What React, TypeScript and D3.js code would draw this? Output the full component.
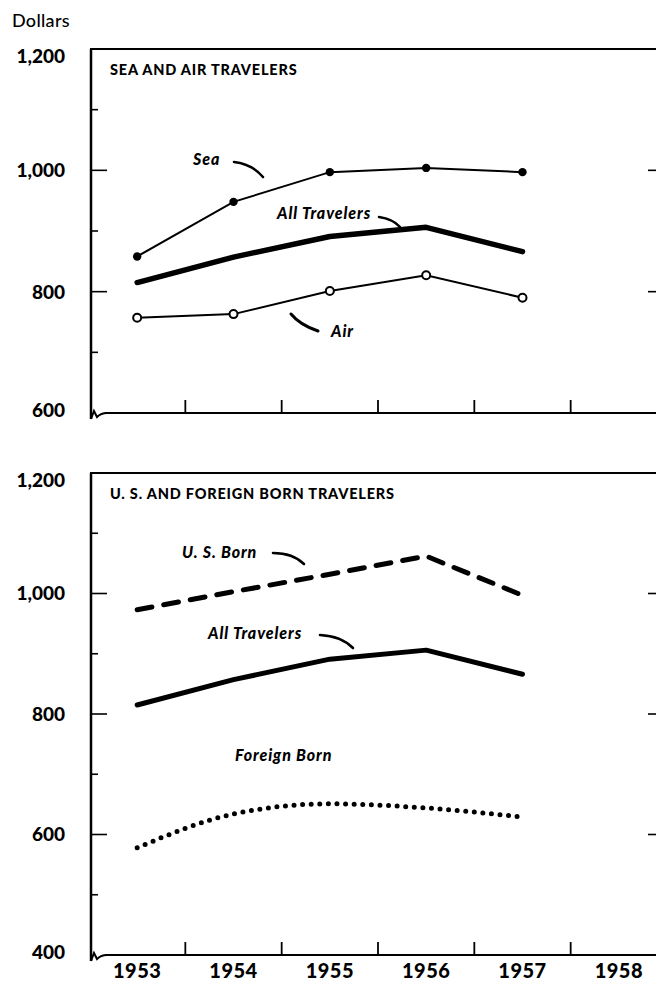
import * as d3 from "d3";

// values (dollars per traveler)
const years = [1953, 1954, 1955, 1956, 1957];
const axisYears = [1953, 1954, 1955, 1956, 1957, 1958];
const seaValues = [858, 948, 997, 1004, 997];
const airValues = [757, 763, 801, 827, 790];
const allTravelersValues = [815, 857, 891, 906, 866];
const usBornValues = [973, 1003, 1032, 1062, 997];
const foreignBornValues = [578, 634, 651, 644, 629];
const topTicks = [600, 700, 800, 900, 1000, 1100, 1200];
const bottomTicks = [400, 500, 600, 700, 800, 900, 1000, 1100, 1200];

const W = 656;
const H = 984;
const LEFT = 91;
const FONT = "Lato, 'DejaVu Sans', sans-serif";

const x = d3.scaleLinear().domain([1952.5, 1958.5]).range([89, 667]);
const yTop = d3.scaleLinear().domain([600, 1200]).range([413, 49]);
const yBot = d3.scaleLinear().domain([400, 1200]).range([955, 473]);

const fmt = d3.format(",");

function pts(vals: number[], y: d3.ScaleLinear<number, number>) {
  return vals.map((v, i) => [x(years[i]), y(v)] as [number, number]);
}

function Frame({ y, ticks, title }: { y: d3.ScaleLinear<number, number>; ticks: number[]; title: string }) {
  const [lo, hi] = y.domain();
  const top = y(hi);
  const base = y(lo);
  return (
    <g>
      <line x1={LEFT - 1} x2={W} y1={top} y2={top} stroke="#000" strokeWidth={2.2} />
      <line x1={LEFT} x2={LEFT} y1={top} y2={base + 6} stroke="#000" strokeWidth={2.5} />
      <path
        d={`M${LEFT},${base + 6} L${LEFT + 3},${base - 2} L${LEFT + 6},${base + 4} Q${LEFT + 10},${base} ${LEFT + 16},${base}`}
        fill="none"
        stroke="#000"
        strokeWidth={2}
      />
      <line x1={LEFT + 14} x2={W} y1={base} y2={base} stroke="#000" strokeWidth={2.2} />
      {ticks.map((t) => {
        const major = (t - lo) % 200 === 0;
        if (t === lo || t === hi) return null;
        return (
          <g key={t}>
            <line x1={LEFT} x2={LEFT + (major ? 16 : 7)} y1={y(t)} y2={y(t)} stroke="#000" strokeWidth={1.6} />
            {major && <line x1={W - 8} x2={W} y1={y(t)} y2={y(t)} stroke="#000" strokeWidth={1.6} />}
          </g>
        );
      })}
      {ticks
        .filter((t) => (t - lo) % 200 === 0)
        .map((t) => (
          <text
            key={t}
            x={65}
            y={y(t) + (t === hi ? 7 : t === lo ? -3 : 0)}
            dy="0.36em"
            textAnchor="end"
            fontFamily={FONT}
            fontWeight={900}
            fontSize={19}
          >
            {fmt(t)}
          </text>
        ))}
      {axisYears.slice(0, -1).map((yr) => (
        <line key={yr} x1={x(yr + 0.5)} x2={x(yr + 0.5)} y1={base} y2={base - 13} stroke="#000" strokeWidth={1.8} />
      ))}
      <text x={110} y={top + 26} fontFamily={FONT} fontWeight={900} fontSize={14.5} letterSpacing={0.8}>
        {title}
      </text>
    </g>
  );
}

function Label({ x: lx, y: ly, text }: { x: number; y: number; text: string }) {
  return (
    <text x={lx} y={ly} fontFamily={FONT} fontWeight={900} fontStyle="italic" fontSize={16} letterSpacing={0.9}>
      {text}
    </text>
  );
}

function Leader({ d, w = 2.6 }: { d: string; w?: number }) {
  return <path d={d} fill="none" stroke="#000" strokeWidth={w} strokeLinecap="round" />;
}

export default function App() {
  const line = d3.line();
  const smooth = d3.line().curve(d3.curveMonotoneX);
  const sea = pts(seaValues, yTop);
  const air = pts(airValues, yTop);
  const allTop = pts(allTravelersValues, yTop);
  const allBot = pts(allTravelersValues, yBot);
  const us = pts(usBornValues, yBot);
  const foreign = pts(foreignBornValues, yBot);

  return (
    <svg width={W} height={H} style={{ position: "absolute", left: 0, top: 0, background: "#fff" }}>
      <text x={12} y={27} fontFamily={FONT} fontSize={18} fontWeight={500} letterSpacing={0.3}>
        Dollars
      </text>

      <Frame y={yTop} ticks={topTicks} title="SEA AND AIR TRAVELERS" />
      <path d={line(sea)!} fill="none" stroke="#000" strokeWidth={2} />
      {sea.map((p, i) => (
        <circle key={i} cx={p[0]} cy={p[1]} r={4.2} fill="#000" />
      ))}
      <path d={line(allTop)!} fill="none" stroke="#000" strokeWidth={5.5} strokeLinejoin="round" strokeLinecap="round" />
      <path d={line(air)!} fill="none" stroke="#000" strokeWidth={2} />
      {air.map((p, i) => (
        <circle key={i} cx={p[0]} cy={p[1]} r={4} fill="#fff" stroke="#000" strokeWidth={2} />
      ))}
      <Label x={193} y={165} text="Sea" />
      <Leader d="M234,162 Q252,164 263,177" />
      <Label x={277} y={219} text="All Travelers" />
      <Leader d="M379,217 Q393,219 400,227" />
      <Label x={331} y={337} text="Air" />
      <Leader d="M291,314 Q300,325 318,331" w={3} />

      <Frame y={yBot} ticks={bottomTicks} title="U. S. AND FOREIGN BORN TRAVELERS" />
      <path
        d={line(us)!}
        fill="none"
        stroke="#000"
        strokeWidth={5}
        strokeDasharray="15 12"
        strokeLinecap="round"
        strokeLinejoin="round"
      />
      <path d={line(allBot)!} fill="none" stroke="#000" strokeWidth={5} strokeLinejoin="round" strokeLinecap="round" />
      <path
        d={smooth(foreign)!}
        fill="none"
        stroke="#000"
        strokeWidth={5}
        strokeDasharray="0 8.6"
        strokeLinecap="round"
      />
      <Label x={182} y={558} text="U. S. Born" />
      <Leader d="M273,553 Q293,553 304,564" />
      <Label x={208} y={639} text="All Travelers" />
      <Leader d="M320,635 Q341,636 353,648" />
      <Label x={235} y={761} text="Foreign Born" />

      {axisYears.map((yr) => (
        <text
          key={yr}
          x={x(yr)}
          y={978}
          textAnchor="middle"
          fontFamily={FONT}
          fontWeight={900}
          fontSize={20}
          letterSpacing={0.5}
        >
          {yr}
        </text>
      ))}
    </svg>
  );
}
